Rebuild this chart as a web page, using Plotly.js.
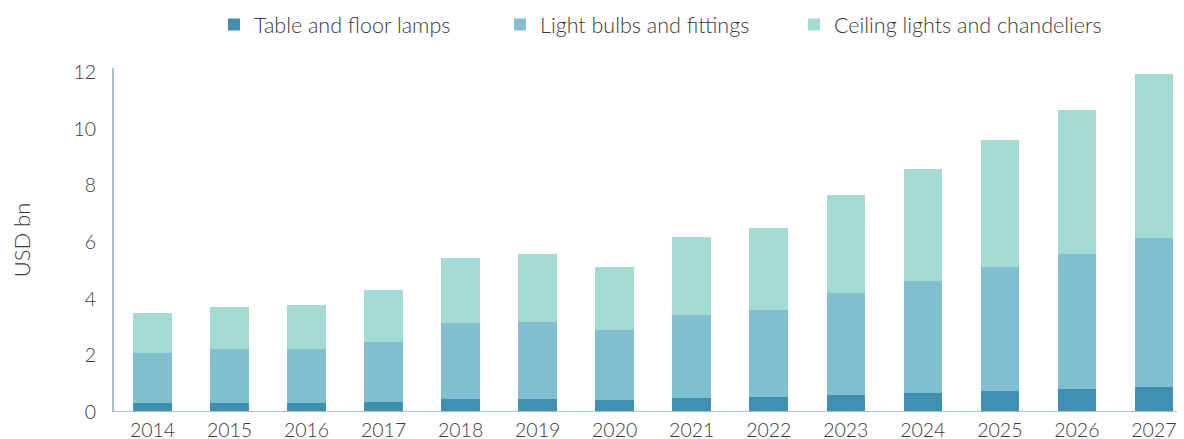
<!DOCTYPE html>
<html>
<head>
<meta charset="utf-8">
<script src="https://cdn.plot.ly/plotly-3.0.1.min.js"></script>
<style>html,body{margin:0;padding:0;background:#fff;}#chart{width:1184px;height:439px;}</style>
</head>
<body>
<div id="chart"></div>
<script>
const years = ['2014','2015','2016','2017','2018','2019','2020','2021','2022','2023','2024','2025','2026','2027'];
const tableFloorLamps = [0.31,0.33,0.33,0.36,0.45,0.45,0.42,0.49,0.52,0.60,0.68,0.74,0.80,0.87];
const lightBulbsFittings = [1.76,1.88,1.89,2.10,2.68,2.72,2.47,2.93,3.08,3.59,3.96,4.37,4.79,5.27];
const ceilingLightsChandeliers = [1.42,1.51,1.56,1.85,2.32,2.41,2.22,2.76,2.89,3.47,3.94,4.48,5.08,5.79];
const seriesNames = ['Table and floor lamps','Light bulbs and fittings','Ceiling lights and chandeliers'];
const colors = ['#3f8fb0','#80bfcf','#a3dbd3'];
const fam = 'Lato, "Open Sans", sans-serif';
const tickFont = {family:fam, size:19.5, color:'#3a3a3a', weight:300};
const legFont = {family:fam, size:21.5, color:'#3a3a3a', weight:300};
const legendIds = ['legend','legend2','legend3'];
const legendLeft = [214, 500, 794];

const data = [tableFloorLamps, lightBulbsFittings, ceilingLightsChandeliers].map((vals,i)=>({
  type:'bar', x:years, y:vals, name:seriesNames[i], legend:legendIds[i],
  marker:{color:colors[i], line:{width:0}}, hoverinfo:'x+y+name'
}));

const layout = {
  width:1184, height:439,
  margin:{l:114, r:7, t:68, b:27},
  barmode:'stack', bargap:0.5,
  paper_bgcolor:'#fff', plot_bgcolor:'#fff',
  font:tickFont,
  showlegend:true,
  xaxis:{type:'category', range:[-0.5,13.3], showgrid:false, zeroline:false, showline:false,
         ticks:'', tickfont:tickFont, ticklabelstandoff:4, fixedrange:true},
  yaxis:{range:[0,12.15], tickvals:[0,2,4,6,8,10,12], showgrid:false, zeroline:false,
         showline:true, linecolor:'#a9bfcc', linewidth:2, mirror:false,
         ticks:'', tickfont:tickFont, ticklabelstandoff:12,
         title:{text:'USD bn', font:{family:fam, size:22, color:'#3a3a3a', weight:300}, standoff:37}},
  shapes:[{type:'line', xref:'paper', yref:'y', x0:0, x1:1, y0:0, y1:0,
           line:{color:'#a9bfcc', width:2}}]
};
legendIds.forEach((id,i)=>{
  layout[id] = {orientation:'h', x:legendLeft[i]/1184, xref:'container', xanchor:'left',
    y:1-4/439, yref:'container', yanchor:'top', font:legFont, itemwidth:28, itemclick:false,
    bgcolor:'rgba(0,0,0,0)'};
});
Plotly.newPlot('chart', data, layout, {displayModeBar:false, staticPlot:true});
</script>
</body>
</html>
